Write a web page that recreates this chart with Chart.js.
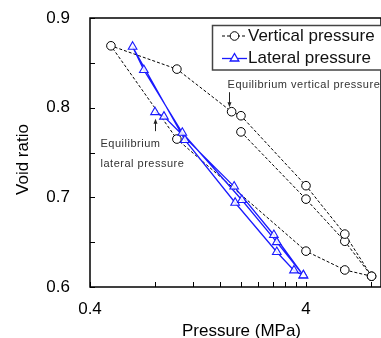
<!DOCTYPE html>
<html><head><meta charset="utf-8">
<script src="https://cdn.jsdelivr.net/npm/chart.js@4/dist/chart.umd.min.js"></script>
<style>html,body{margin:0;padding:0;background:#fff;}#wrap{width:381px;height:338px;position:relative;}</style>
</head><body><div id="wrap"><canvas id="c" width="381" height="338"></canvas></div>
<script>
// ---- data ----
const seriesNames = ['Vertical pressure', 'Lateral pressure'];
// vertical pressure path (MPa) and void ratio
const verticalPressure = [2.0, 4.0, 6.05, 8.05, 6.05, 4.0, 2.0, 1.81, 1.01, 0.50, 1.01, 4.0, 6.05, 8.05];
const verticalVoid     = [0.773, 0.698, 0.651, 0.612, 0.659, 0.713, 0.791, 0.7955, 0.843, 0.869, 0.765, 0.640, 0.619, 0.612];
// lateral pressure path (MPa) and void ratio
const lateralPressure = [0.80, 0.88, 1.86, 2.84, 3.89, 3.52, 2.93, 1.88, 1.10, 0.63, 0.71, 1.07, 2.02, 2.93, 3.89];
const lateralVoid     = [0.795, 0.790, 0.712, 0.658, 0.613, 0.6185, 0.639, 0.694, 0.764, 0.868, 0.842, 0.772, 0.697, 0.650, 0.613];
const xTickLabels = [0.4, 4];
const xMinorTicks = [0.8, 1.2, 1.6, 2.0, 2.4, 2.8, 3.2, 3.6, 8];
const yTickLabels = [0.6, 0.7, 0.8, 0.9];
const yMinorTicks = [0.65, 0.75, 0.85];
const xRange = [0.4, 8.9];
const xTitle = 'Pressure (MPa)';
const yTitle = 'Void ratio';
const eqVerticalText = 'Equilibrium vertical pressure';
const eqLateralText = ['Equilibrium', 'lateral pressure'];
const eqVerticalIndex = 7;
const eqLateralIndex = 0;

const FONT = 'Arial, "Liberation Sans", sans-serif';
const BLUE = '#1a1aff';

function arrow(ctx, x, y0, y1) {
  const dir = Math.sign(y1 - y0);
  ctx.beginPath();
  ctx.moveTo(x, y0); ctx.lineTo(x, y1 - dir * 4); ctx.stroke();
  ctx.beginPath();
  ctx.moveTo(x, y1); ctx.lineTo(x - 2, y1 - dir * 5); ctx.lineTo(x + 2, y1 - dir * 5); ctx.closePath(); ctx.fill();
}

const decor = {
  id: 'decor',
  afterDatasetsDraw(chart) {
    const {ctx, chartArea: a, scales: {x, y}} = chart;
    ctx.save();
    ctx.strokeStyle = '#000'; ctx.lineWidth = 1.5; ctx.setLineDash([]);
    ctx.strokeRect(a.left, a.top, a.right - a.left, a.bottom - a.top);
    ctx.lineWidth = 1;
    ctx.beginPath();
    xTickLabels.concat(xMinorTicks).forEach(v => {
      const px = Math.round(x.getPixelForValue(v)) + 0.5;
      ctx.moveTo(px, a.bottom); ctx.lineTo(px, a.bottom - 5);
    });
    yTickLabels.concat(yMinorTicks).forEach(v => {
      const py = Math.round(y.getPixelForValue(v)) + 0.5;
      ctx.moveTo(a.left, py); ctx.lineTo(a.left + 5, py);
    });
    ctx.stroke();
    ctx.fillStyle = '#000';
    ctx.font = '17px ' + FONT;
    ctx.textAlign = 'center'; ctx.textBaseline = 'middle';
    ctx.fillText(xTitle, (a.left + a.right) / 2 + 6, 331);
    ctx.save();
    ctx.translate(23, (a.top + a.bottom) / 2 + 7);
    ctx.rotate(-Math.PI / 2);
    ctx.fillText(yTitle, 0, 0);
    ctx.restore();
    // legend
    const lx = 212.5, ly = 25.5, lw = 175, lh = 44.5;
    ctx.fillStyle = '#fff';
    ctx.fillRect(lx, ly, lw, lh);
    ctx.strokeStyle = '#444'; ctx.lineWidth = 1.5;
    ctx.strokeRect(lx, ly, lw, lh);
    const rows = [36, 58.5];
    ctx.strokeStyle = '#000'; ctx.lineWidth = 1; ctx.setLineDash([3, 2]);
    ctx.beginPath(); ctx.moveTo(222, rows[0]); ctx.lineTo(247, rows[0]); ctx.stroke();
    ctx.setLineDash([]);
    ctx.fillStyle = '#fff';
    ctx.beginPath(); ctx.arc(234.5, rows[0], 4.3, 0, Math.PI * 2); ctx.fill(); ctx.stroke();
    ctx.strokeStyle = BLUE; ctx.lineWidth = 1.3;
    ctx.beginPath(); ctx.moveTo(222, rows[1]); ctx.lineTo(247, rows[1]); ctx.stroke();
    const r = 5, tx = 234.5, ty = rows[1];
    ctx.beginPath();
    for (let k = 0; k < 3; k++) {
      const ang = k * 2 * Math.PI / 3;
      const px = tx + Math.sin(ang) * r, py = ty - Math.cos(ang) * r;
      k ? ctx.lineTo(px, py) : ctx.moveTo(px, py);
    }
    ctx.closePath(); ctx.fill(); ctx.stroke();
    ctx.fillStyle = '#111';
    ctx.font = '17px ' + FONT;
    ctx.textAlign = 'left'; ctx.textBaseline = 'middle';
    ctx.fillText(seriesNames[0], 248, rows[0]);
    ctx.fillText(seriesNames[1], 248, rows[1]);
    // annotations
    ctx.fillStyle = '#333'; ctx.strokeStyle = '#222'; ctx.lineWidth = 1;
    ctx.font = '11px ' + FONT;
    if ('letterSpacing' in ctx) ctx.letterSpacing = '0.5px';
    const vcx = x.getPixelForValue(verticalPressure[eqVerticalIndex]);
    const vcy = y.getPixelForValue(verticalVoid[eqVerticalIndex]);
    ctx.fillText(eqVerticalText, vcx - 4, vcy - 26.5);
    ctx.fillStyle = '#222';
    arrow(ctx, Math.round(vcx - 2.5) + 0.5, vcy - 19.5, vcy - 4.5);
    const lcx = x.getPixelForValue(lateralPressure[eqLateralIndex]);
    const lcy = y.getPixelForValue(lateralVoid[eqLateralIndex]);
    ctx.fillStyle = '#333';
    ctx.fillText(eqLateralText[0], lcx - 54.5, lcy + 31.5);
    ctx.fillText(eqLateralText[1], lcx - 54.5, lcy + 51.5);
    ctx.fillStyle = '#222';
    arrow(ctx, Math.round(lcx - 0.5) + 0.5, lcy + 19, lcy + 6.5);
    ctx.restore();
  }
};

const toPts = (xs, ys) => xs.map((v, i) => ({x: v, y: ys[i]}));

new Chart(document.getElementById('c'), {
  type: 'line',
  data: {
    datasets: [
      {
        label: seriesNames[1],
        data: toPts(lateralPressure, lateralVoid),
        order: 0,
        borderColor: BLUE, borderWidth: 1.3, tension: 0,
        pointStyle: 'triangle', pointRadius: 5, pointHoverRadius: 5,
        pointBorderColor: BLUE, pointBackgroundColor: 'rgba(255,255,255,0.85)', pointBorderWidth: 1.1,
        fill: false
      },
      {
        label: seriesNames[0],
        data: toPts(verticalPressure, verticalVoid),
        order: 1,
        borderColor: '#000', borderWidth: 1, borderDash: [3, 2], tension: 0,
        pointStyle: 'circle', pointRadius: 4.3, pointHoverRadius: 4.3,
        pointBorderColor: '#000', pointBackgroundColor: '#fff', pointBorderWidth: 1,
        fill: false
      }
    ]
  },
  options: {
    responsive: false,
    devicePixelRatio: 1,
    animation: false,
    events: [],
    layout: {autoPadding: false, padding: {top: 18, right: 0, left: 0, bottom: 0}},
    plugins: {legend: {display: false}, tooltip: {enabled: false}, title: {display: false}},
    scales: {
      x: {
        type: 'logarithmic', position: 'bottom', min: xRange[0], max: xRange[1], bounds: 'data',
        grid: {display: false, drawTicks: false},
        border: {display: false},
        afterBuildTicks: s => { s.ticks = xTickLabels.map(v => ({value: v})); s.min = xRange[0]; s.max = xRange[1]; },
        afterFit: s => { s.height = 51; s.paddingLeft = 0; s.paddingRight = 0; },
        ticks: {
          autoSkip: false, maxRotation: 0, padding: 12, color: '#000',
          font: {size: 17, family: FONT},
          callback: v => String(v)
        }
      },
      y: {
        type: 'linear', position: 'left', min: 0.6, max: 0.9,
        grid: {display: false, drawTicks: false},
        border: {display: false},
        afterBuildTicks: s => { s.ticks = yTickLabels.map(v => ({value: v})); },
        afterFit: s => { s.width = 90; s.paddingTop = 0; s.paddingBottom = 0; },
        ticks: {
          padding: 20, color: '#000',
          font: {size: 17, family: FONT},
          callback: v => v.toFixed(1)
        }
      }
    }
  },
  plugins: [decor]
});
</script>
</body></html>
